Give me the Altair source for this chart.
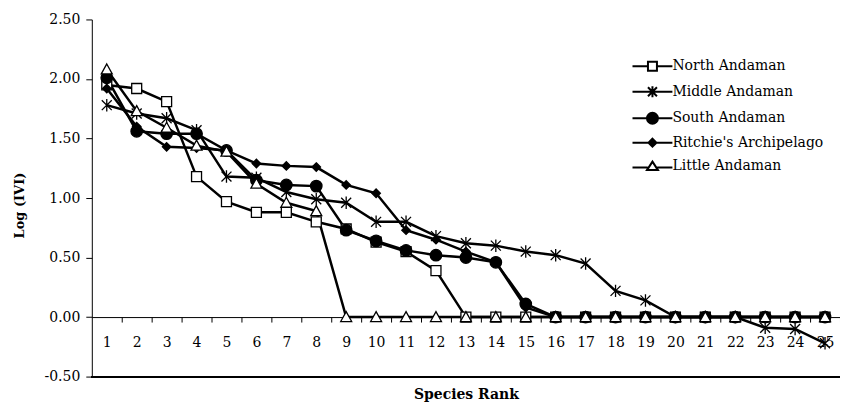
import altair as alt
import pandas as pd

ranks = list(range(1, 26))
series_names = ["North Andaman", "Middle Andaman", "South Andaman",
                "Ritchie's Archipelago", "Little Andaman"]

north = [1.95, 1.92, 1.81, 1.18, 0.97, 0.88, 0.88, 0.80, 0.74, 0.63, 0.55, 0.39,
         0, 0, 0, 0, 0, 0, 0, 0, 0, 0, 0, 0, 0]
middle = [1.78, 1.71, 1.67, 1.57, 1.18, 1.17, 1.05, 0.99, 0.96, 0.80, 0.80, 0.68,
          0.62, 0.60, 0.55, 0.52, 0.45, 0.22, 0.14, 0, 0, 0, -0.09, -0.10, -0.22]
south = [2.01, 1.56, 1.54, 1.54, 1.40, 1.15, 1.11, 1.10, 0.73, 0.64, 0.56, 0.52,
         0.50, 0.46, 0.11, 0, 0, 0, 0, 0, 0, 0, 0, 0, 0]
ritchie = [1.92, 1.60, 1.43, 1.42, 1.40, 1.29, 1.27, 1.26, 1.11, 1.04, 0.73, 0.65,
           0.55, 0.46, 0.08, 0, 0, 0, 0, 0, 0, 0, 0, 0, 0]
little = [2.08, 1.73, 1.59, 1.44, 1.39, 1.12, 0.96, 0.89, 0, 0, 0, 0,
          0, 0, 0, 0, 0, 0, 0, 0, 0, 0, 0, 0, 0]

# marker shapes (unit = 5 px at size 100)
shape_paths = [
    "M-1,-1H1V1H-1Z",
    "M-1,-1L1,1M-1,1L1,-1M0,-1.25V1.25",
    "M-1.15,0A1.15,1.15,0,1,1,1.15,0A1.15,1.15,0,1,1,-1.15,0Z",
    "M0,-0.85L0.85,0L0,0.85L-0.85,0Z",
    "M0,-1.1L1.1,0.9L-1.1,0.9Z",
]
# legend symbols: line segment + marker
legend_paths = [
    "M-4,0H-0.9M0.9,0H4M-0.9,-0.9H0.9V0.9H-0.9Z",
    "M-4,0H4M-0.9,-0.9L0.9,0.9M-0.9,0.9L0.9,-0.9M0,-1.1V1.1",
    "M-4,0H4M-1.1,0A1.1,1.1,0,1,1,1.1,0A1.1,1.1,0,1,1,-1.1,0Z",
    "M-4,0H4M0,-0.8L0.8,0L0,0.8L-0.8,0Z",
    "M-4,0.3H-0.95M0.95,0.3H4M0,-0.9L1.1,0.8L-1.1,0.8Z",
]
fills = ["white", "transparent", "black", "black", "white"]
strokes = ["black"] * 5
y_ticks = [-0.5, 0, 0.5, 1.0, 1.5, 2.0, 2.5]

rows = []
for name, vals in zip(series_names, [north, middle, south, ritchie, little]):
    for r, v in zip(ranks, vals):
        rows.append({"Rank": r, "Value": v, "Series": name})
df = pd.DataFrame(rows)

W, H = 750, 358
FONT = "DejaVu Serif"

x_enc = alt.X("Rank:Q",
              scale=alt.Scale(domain=[0.5, 25.5], nice=False, zero=False),
              axis=alt.Axis(values=ranks, offset=-H * 0.5 / 3, tickOffset=15,
                            labelOffset=-15, tickSize=5, labelPadding=14,
                            labelOverlap=False, labelBound=False, grid=False,
                            domainColor="black", tickColor="black",
                            labelColor="black", labelFont=FONT, labelFontSize=14,
                            title="Species Rank", titleFont=FONT,
                            titleFontSize=14, titleFontWeight="bold",
                            titleColor="black", titleY=78,
                            titleBaseline="middle"))
y_enc = alt.Y("Value:Q",
              scale=alt.Scale(domain=[-0.5, 2.5], nice=False, zero=False),
              axis=alt.Axis(values=y_ticks, format=".2f", tickSize=6,
                            labelPadding=6, grid=False, domainColor="black",
                            tickColor="black", labelColor="black",
                            labelExpr="replace(datum.label, '\u2212', '-')",
                            labelFont=FONT, labelFontSize=14,
                            title="Log (IVI)", titleFont=FONT, titleFontSize=13,
                            titleFontWeight="bold", titleColor="black",
                            titleX=-72, titleY=186, titleBaseline="middle",
                            titleAlign="center"))

lines = alt.Chart(df).mark_line(strokeWidth=2.5, color="black").encode(
    x=x_enc, y=y_enc, detail="Series:N",
)

points = alt.Chart(df).mark_point(size=100, strokeWidth=1.3, opacity=1,
                                  stroke="black").encode(
    x=x_enc, y=y_enc,
    shape=alt.Shape("Series:N", sort=series_names,
                    scale=alt.Scale(range=shape_paths), legend=None),
    fill=alt.Fill("Series:N", sort=series_names,
                  scale=alt.Scale(range=fills), legend=None),
)

leg = alt.Legend(orient="none", legendX=555, legendY=40, padding=0,
                 symbolSize=100, rowPadding=6.5, labelFont=FONT,
                 labelFontSize=14, labelColor="black", labelLimit=400,
                 labelOffset=13, symbolStrokeColor="black",
                 symbolStrokeWidth=2, symbolOpacity=1, title=None)

legend_layer = alt.Chart(df).transform_filter("false").mark_point(
    size=100, strokeWidth=2, opacity=1).encode(
    x=x_enc, y=y_enc,
    shape=alt.Shape("Series:N",
                    scale=alt.Scale(domain=series_names, range=legend_paths),
                    legend=leg),
    fill=alt.Fill("Series:N",
                  scale=alt.Scale(domain=series_names, range=fills),
                  legend=leg),
    stroke=alt.Stroke("Series:N",
                      scale=alt.Scale(domain=series_names, range=strokes),
                      legend=leg),
)

bottom = alt.Chart(df).mark_rule(color="black", strokeWidth=1).encode(
    y=alt.datum(-0.5))

chart = alt.layer(bottom, lines, points, legend_layer).resolve_scale(
    shape="independent", fill="independent", stroke="independent"
).properties(
    width=W, height=H,
    autosize=alt.AutoSizeParams(type="none"),
    padding={"left": 84, "top": 11, "right": 0, "bottom": 29},
    background="white",
).configure_view(stroke=None).configure_axis(labelOverlap=False)

chart.save("out.html", embed_options={"renderer": "svg", "actions": False})
